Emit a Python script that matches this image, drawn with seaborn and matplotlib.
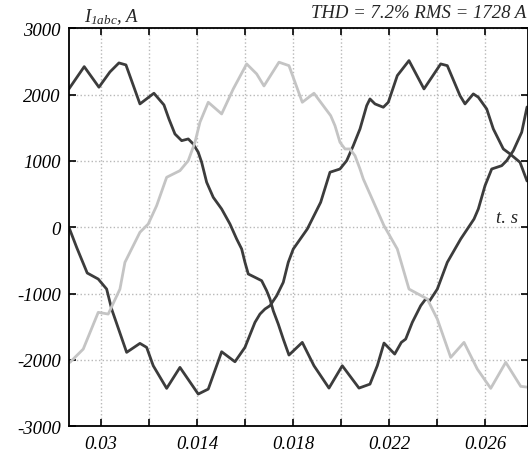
import numpy as np
import pandas as pd
import matplotlib
matplotlib.use('Agg')
import matplotlib.pyplot as plt
import seaborn as sns

# ---- data (time in s, current in A) ----
t_a = [0.008667, 0.009304, 0.009917, 0.010375, 0.010750, 0.011042, 0.011625, 0.012208,
       0.012625, 0.012833, 0.013083, 0.013363, 0.013638, 0.013846, 0.014054, 0.014196,
       0.014404, 0.014679, 0.015029, 0.015375, 0.015654, 0.015863, 0.016000, 0.016138,
       0.016417, 0.016696, 0.016904, 0.017042, 0.017179, 0.017388, 0.017596, 0.017833,
       0.018388, 0.018875, 0.019500, 0.020054, 0.020750, 0.021208, 0.021513, 0.021792,
       0.022238, 0.022513, 0.022696, 0.022971, 0.023321, 0.023529, 0.023696, 0.024013,
       0.024429, 0.024988, 0.025542, 0.025721, 0.026000, 0.026279, 0.026696, 0.026904,
       0.027179, 0.027529, 0.027750]
i_a = [2086, 2422, 2112, 2342, 2478, 2448, 1860, 2021,
       1845, 1633, 1407, 1306, 1332, 1256, 1131, 980,
       679, 452, 276, 50, -176, -327, -528, -704,
       -754, -805, -956, -1081, -1258, -1459, -1685, -1926,
       -1735, -2087, -2424, -2087, -2424, -2364, -2087, -1745,
       -1911, -1735, -1685, -1433, -1182, -1081, -1107, -931,
       -528, -176, 125, 276, 627, 879, 929, 1005,
       1155, 1433, 1814]

t_b = [0.008667, 0.008988, 0.009429, 0.009888, 0.010238, 0.010446, 0.011071, 0.011625,
       0.011904, 0.012179, 0.012738, 0.013292, 0.014054, 0.014471, 0.015029, 0.015583,
       0.016000, 0.016138, 0.016417, 0.016625, 0.016833, 0.017042, 0.017321, 0.017596,
       0.017804, 0.018013, 0.018596, 0.019154, 0.019542, 0.019958, 0.020238, 0.020513,
       0.020792, 0.021071, 0.021208, 0.021417, 0.021763, 0.021971, 0.022346, 0.022833,
       0.023458, 0.024154, 0.024429, 0.024958, 0.025167, 0.025513, 0.025721, 0.026071,
       0.026346, 0.026763, 0.027042, 0.027458, 0.027750]
i_b = [0, -302, -689, -780, -931, -1232, -1885, -1750,
       -1810, -2087, -2428, -2112, -2514, -2439, -1876, -2027,
       -1810, -1685, -1433, -1308, -1232, -1182, -1032, -830,
       -528, -327, -26, 377, 830, 879, 1005, 1231,
       1483, 1834, 1935, 1860, 1810, 1885, 2287, 2513,
       2086, 2463, 2437, 1985, 1860, 2011, 1961, 1784,
       1483, 1181, 1106, 980, 698]

t_c = [0.008708, 0.009263, 0.009888, 0.010304, 0.010792, 0.011000, 0.011625, 0.011971,
       0.012321, 0.012738, 0.013292, 0.013638, 0.013917, 0.014125, 0.014471, 0.015029,
       0.015513, 0.016071, 0.016488, 0.016792, 0.017417, 0.017833, 0.018388, 0.018875,
       0.019571, 0.019750, 0.019958, 0.020167, 0.020375, 0.020583, 0.020792, 0.020929,
       0.021238, 0.021792, 0.022346, 0.022833, 0.023596, 0.024013, 0.024571, 0.025125,
       0.025679, 0.026238, 0.026863, 0.027488, 0.027750]
i_c = [-2036, -1836, -1282, -1308, -931, -528, -75, 50,
       326, 754, 854, 1005, 1282, 1584, 1885, 1709,
       2086, 2463, 2312, 2131, 2489, 2437, 1885, 2021,
       1683, 1532, 1282, 1181, 1181, 1080, 879, 729,
       477, 24, -327, -931, -1081, -1383, -1961, -1735,
       -2137, -2428, -2036, -2398, -2409]

x_ticks = [0.010, 0.012, 0.014, 0.016, 0.018, 0.020, 0.022, 0.024, 0.026]
x_labels = ['0.03', '', '0.014', '', '0.018', '', '0.022', '', '0.026']
y_ticks = [-3000, -2000, -1000, 0, 1000, 2000, 3000]
y_labels = ['-3000', '-2000', '-1000', '0', '1000', '2000', '3000']

df = pd.concat([
    pd.DataFrame({'t': t_a, 'I': i_a, 'phase': 'a'}),
    pd.DataFrame({'t': t_b, 'I': i_b, 'phase': 'b'}),
    pd.DataFrame({'t': t_c, 'I': i_c, 'phase': 'c'}),
])

sns.set_style('ticks')
plt.rcParams['font.family'] = ['Liberation Serif', 'DejaVu Serif']
plt.rcParams['font.style'] = 'italic'
plt.rcParams['mathtext.fontset'] = 'custom'
plt.rcParams['mathtext.rm'] = 'Liberation Serif:italic'
plt.rcParams['mathtext.it'] = 'Liberation Serif:italic'

fig = plt.figure(figsize=(5.28, 4.52), dpi=100)
ax = fig.add_axes([69 / 528, 1 - 427.3 / 452, (527.5 - 69) / 528, (427.3 - 29.3) / 452])

sns.lineplot(data=df, x='t', y='I', hue='phase', estimator=None, sort=False,
             palette={'a': '#3c3c3c', 'b': '#3c3c3c', 'c': '#c4c4c4'},
             linewidth=2.0, legend=False, ax=ax)

ax.set_xlim(0.00867, 0.02777)
ax.set_ylim(-3000, 3000)
ax.set_xticks(x_ticks)
ax.set_xticklabels(x_labels)
ax.set_yticks(y_ticks)
ax.set_yticklabels(y_labels)
ax.set_xlabel('')
ax.set_ylabel('')
ax.grid(True, ls=':', color='#b8b8b8', lw=1)
ax.tick_params(direction='in', top=True, right=True, length=5, width=1.2,
               labelsize=13.5, pad=6, colors='black')
for s in ax.spines.values():
    s.set_linewidth(1.3)
    s.set_color('black')

fig.text(84 / 528, 1 - 17 / 452, r'$I_{1abc}$, A', fontsize=13.5, style='italic',
         ha='left', va='center')
fig.text(526 / 528, 1 - 14 / 452, 'THD = 7.2% RMS = 1728 A', fontsize=13.5,
         style='italic', ha='right', va='center')
ax.text(0.02737, 155, 't. s', fontsize=13.5, style='italic', ha='right', va='center')

fig.savefig('out.png', dpi=100)
